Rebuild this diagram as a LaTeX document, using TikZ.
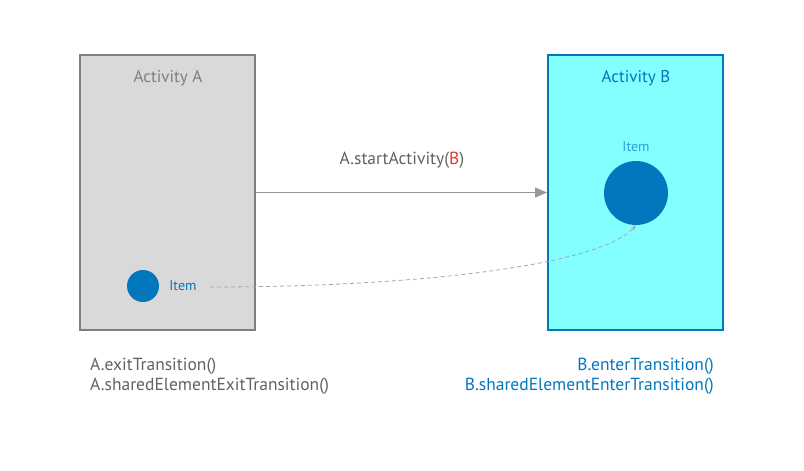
\documentclass[tikz,border=0pt]{standalone}
\usepackage{fontspec}
\setmainfont{PT Sans}
\usepackage{tikz}
\usetikzlibrary{arrows.meta}
\usetikzlibrary{positioning}
\definecolor{boxgray}{HTML}{D9D9D9}
\definecolor{linegray}{HTML}{7F7F7F}
\definecolor{textgray}{HTML}{616161}
\definecolor{boxcyan}{HTML}{84FFFF}
\definecolor{darkblue}{HTML}{0277BD}
\definecolor{lightblue}{HTML}{2AA0D6}
\definecolor{callred}{HTML}{E53935}
\tikzset{
  activity/.style = {draw, line width = 2pt, minimum width = 175pt, minimum height = 275pt, inner sep = 0pt},
  item/.style = {circle, fill = darkblue, inner sep = 0pt},
  label/.style = {font = \fontsize{17}{20}\selectfont, inner sep = 0pt},
  small/.style = {font = \fontsize{14}{17}\selectfont},
  code/.style = {font = \fontsize{17.5}{20}\selectfont},
}

\begin{document}
\begin{tikzpicture}[x = 1pt, y = -1pt]
  \useasboundingbox (0,0) rectangle (804,471);
  % nodes
  \node [activity, fill = boxgray, draw = linegray] (actA) at (167.5,192.5) {};
  \node [activity, fill = boxcyan, draw = darkblue] (actB) at (635.5,192.5) {};
  \node [label, text = linegray] (titleA) at (168,78) {Activity A};
  \node [label, text = darkblue] (titleB) at (636,78) {Activity B};
  \node [item, minimum size = 32pt] (itemA) at (143,286) {};
  \node [label, small, right = 10pt of itemA, text = darkblue] (nameA) {Item};
  \node [item, minimum size = 64pt] (itemB) at (636,193) {};
  \node [label, small, text = lightblue] (nameB) at (636,147) {Item};
  \node [label, code, text = textgray] (call) at (402,160) {A.startActivity(\textcolor{callred}{B})};
  \node [label, code, text = textgray, align = left, anchor = north west] (exitA) at (90,357.5)
    {A.exitTransition()\\A.sharedElementExitTransition()};
  \node [label, code, text = darkblue, align = right, anchor = north east] (enterB) at (714,357.5)
    {B.enterTransition()\\B.sharedElementEnterTransition()};
  \coordinate (dashA) at (210,287);
  % paths
  \draw [linegray!80, line width = 1.5pt, -{Triangle[length = 12pt, width = 10pt]}] (actA.east) -- (actB.west);
  \draw [linegray!70, line width = 0.8pt, dash pattern = on 4pt off 3pt, -{Stealth[length = 6pt]}]
    (dashA) .. controls (420,287) and (600,265) .. (itemB.south);
\end{tikzpicture}
\end{document}
